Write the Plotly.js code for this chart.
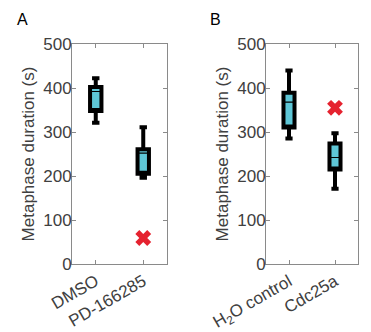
<!DOCTYPE html>
<html><head><meta charset="utf-8">
<script src="https://cdn.plot.ly/plotly-3.0.1.min.js"></script>
<style>html,body{margin:0;padding:0;background:#fff}#c{width:371px;height:332px}</style>
</head><body><div id="c"></div>
<script>
// Panel A
const catsA = ['DMSO', 'PD-166285'];
const lowA = [321, 196];
const q1A = [348, 205];
const medA = [392, 252];
const q3A = [402, 261];
const highA = [422, 311];
const outXA = ['PD-166285'];
const outYA = [59];
// Panel B
const catsB = ['H<sub>2</sub>O control', 'Cdc25a'];
const lowB = [285, 171];
const q1B = [310, 215];
const medB = [368, 242];
const q3B = [389, 274];
const highB = [440, 297];
const outXB = ['Cdc25a'];
const outYB = [355];
const yTicks = [0, 100, 200, 300, 400, 500];

const fill = '#5ec6d6';
const red = '#e5222f';
const txt = '#404040';
const axc = '#8a8a8a';
const bw = 0.24;
const FF = 'Liberation Sans, Arial, sans-serif';

function boxes(cats, lo, q1, med, q3, hi, xa, ya) {
  const thick = {type:'box', x:cats, q1:q1, median:q1, q3:q3, lowerfence:lo, upperfence:hi,
    fillcolor:fill, line:{color:'#000', width:4}, whiskerwidth:0.65, width:bw,
    boxpoints:false, xaxis:xa, yaxis:ya, showlegend:false, hoverinfo:'skip'};
  const thin = {type:'box', x:cats, q1:q1, median:med, q3:q3, lowerfence:q1, upperfence:q3,
    fillcolor:'rgba(0,0,0,0)', line:{color:'#000', width:1.2}, whiskerwidth:0, width:bw,
    boxpoints:false, xaxis:xa, yaxis:ya, showlegend:false, hoverinfo:'skip'};
  return [thick, thin];
}
function outl(x, y, xa, ya) {
  return {type:'scatter', mode:'markers', x:x, y:y, xaxis:xa, yaxis:ya, showlegend:false,
    marker:{symbol:'x', size:14, color:red, line:{width:0}}};
}
const data = [
  ...boxes(catsA, lowA, q1A, medA, q3A, highA, 'x', 'y'),
  outl(outXA, outYA, 'x', 'y'),
  ...boxes(catsB, lowB, q1B, medB, q3B, highB, 'x2', 'y2'),
  outl(outXB, outYB, 'x2', 'y2')
];
const W = 371, H = 332;
const yDom = [(H-264)/H, (H-44)/H];
function xax(dom, cats) {
  return {domain:dom, type:'category', categoryarray:cats, range:[-0.5,1.5], showgrid:false, zeroline:false,
    showline:true, linecolor:axc, linewidth:1, mirror:'ticks', ticks:'inside', ticklen:4, tickcolor:axc,
    tickangle:-30, tickfont:{family:FF, size:17, color:txt}, fixedrange:true};
}
function yax(anchor) {
  return {domain:yDom, anchor:anchor, range:[0,500], tickvals:yTicks, showgrid:false, zeroline:false,
    showline:true, linecolor:axc, linewidth:1, mirror:'ticks', ticks:'inside', ticklen:4, tickcolor:axc,
    tickfont:{family:FF, size:17, color:txt}, ticklabelstandoff:-4,
    title:{text:'Metaphase duration (s)', font:{family:FF, size:17, color:txt}, standoff:4}};
}
const layout = {
  width:W, height:H, margin:{l:0,r:0,t:0,b:0}, paper_bgcolor:'#fff', plot_bgcolor:'#fff',
  boxmode:'overlay',
  xaxis: Object.assign(xax([72/W, 167/W], catsA), {anchor:'y'}),
  yaxis: yax('x'),
  xaxis2: Object.assign(xax([266/W, 358/W], catsB), {anchor:'y2'}),
  yaxis2: yax('x2'),
  annotations:[
    {text:'A', xref:'paper', yref:'paper', x:22/W, y:(H-19)/H, showarrow:false, xanchor:'center', yanchor:'middle',
     font:{family:FF, size:16, color:'#000'}},
    {text:'B', xref:'paper', yref:'paper', x:215/W, y:(H-19)/H, showarrow:false, xanchor:'center', yanchor:'middle',
     font:{family:FF, size:16, color:'#000'}}
  ]
};
Plotly.newPlot('c', data, layout, {staticPlot:true, displayModeBar:false});
</script></body></html>
